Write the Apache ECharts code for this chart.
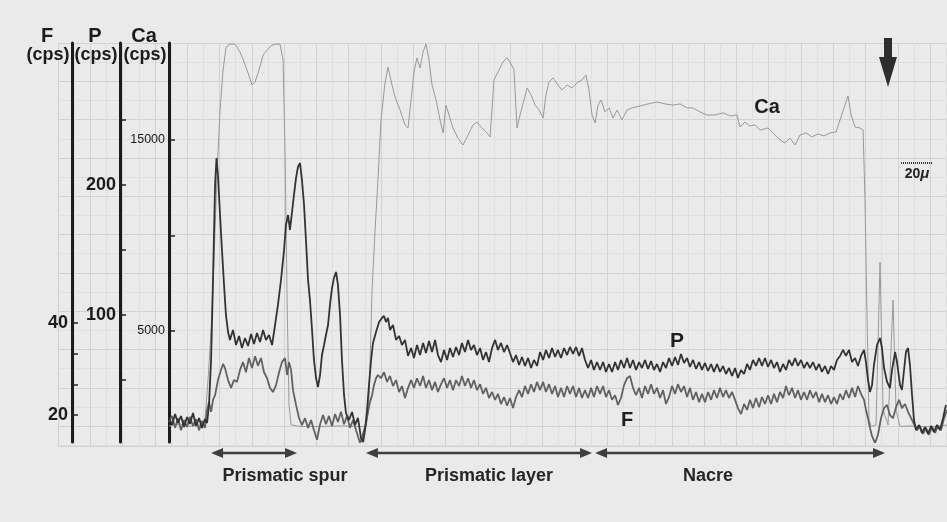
<!DOCTYPE html>
<html><head><meta charset="utf-8">
<script src="https://cdn.jsdelivr.net/npm/echarts@6/dist/echarts.min.js"></script>
<style>html,body{margin:0;padding:0;background:#eaeaea}#c{width:947px;height:522px}</style>
</head><body><div id="c"></div>
<script>
// ---- axis ticks / labels (cps) ----
const caAxisTicks = [5000, 10000, 15000];
const caAxisLabels = [5000, 15000];
const pAxisTicks = [50, 100, 150, 200, 250];
const pAxisLabels = [100, 200];
const fAxisTicks = [20, 26.67, 33.33, 40];
const fAxisLabels = [20, 40];

// ---- scan profiles: [distance (µm), counts (cps)] ----
const caProfile = [[0,30],[6.9,130],[13.1,0],[19.4,80],[22.5,340],[24.4,2430],[26.3,5050],[28.1,8720],[30,13170],[31.9,16570],[33.8,18670],[35.6,19820],[37.5,20020],[41.3,20020],[44.4,19610],[46.9,19090],[49.4,18510],[51.9,17880],[53.8,18040],[56.3,18670],[58.8,19450],[61.3,19710],[64.4,19970],[66.9,20020],[69.4,20020],[71.3,19190],[72.5,14480],[73.8,6620],[75,1130],[76.3,80],[81.9,0],[94.4,0],[106.9,30],[119.4,0],[123.1,0],[125,1390],[126.9,7150],[128.8,10290],[130.6,12910],[132.5,16050],[135,17990],[136.9,18820],[139.4,17880],[141.3,17250],[144.4,16570],[147.5,15790],[149.4,15630],[151.3,17100],[153.1,18560],[155,19300],[156.9,18770],[158.8,19610],[160.6,20020],[162.5,19190],[164.4,17880],[166.9,17100],[169.4,16050],[171.3,15370],[173.1,16830],[175,16310],[177.5,15630],[180.6,15100],[183.8,14740],[186.9,15260],[190,15790],[192.5,15940],[195.6,15630],[198.8,15370],[200.6,15160],[201.9,16570],[203.1,18140],[205.6,18560],[208.8,19090],[211.3,19300],[213.8,18980],[215.6,18670],[217.5,15630],[219.4,16310],[221.9,17100],[223.8,17720],[226.3,17360],[228.8,16830],[231.3,16570],[233.8,16150],[235.6,17360],[237.5,18040],[240,18250],[243.1,17880],[245.6,17620],[248.8,17880],[251.9,17720],[255,17990],[258.1,18140],[260.6,18410],[262.5,17620],[264.4,16310],[266.3,15890],[268.1,16830],[270,17100],[272.5,16470],[275,16680],[277.5,16150],[280,16570],[283.1,16050],[286.3,16570],[289.4,16680],[294.4,16780],[299.4,16890],[305,16990],[310,16890],[315,16830],[319.4,16890],[323.8,16680],[327.5,16680],[331.9,16470],[336.3,16310],[341.3,16310],[346.3,16420],[350.6,16260],[355,16310],[356.9,15680],[360,15940],[363.1,15730],[366.3,15790],[369.4,15520],[374.4,15630],[378.8,15260],[381.9,15000],[385,14840],[388.1,15100],[391.3,14740],[394.4,15260],[398.1,15370],[401.9,15160],[405.6,15320],[409.4,15210],[413.1,15370],[416.9,15420],[419.4,16050],[421.9,16680],[424.4,17300],[426.3,16310],[428.8,15680],[431.9,15630],[433.8,15520],[435,11860],[436.3,5580],[437.5,340],[438.8,0],[441.9,80],[444.4,8610],[446.3,860],[449.4,80],[452.5,6620],[454.4,860],[456.9,0],[463.1,30],[469.4,0],[479.4,0],[486.3,80]];

const pProfile = [[0,20.8],[1.9,15.4],[3.8,23.8],[5.6,16.9],[7.5,22.3],[9.4,13.8],[11.3,21.5],[13.1,16.2],[15,24.6],[16.9,14.6],[18.8,20.8],[20.6,13.1],[22.5,20],[23.8,16.9],[25,30.8],[26.3,65.4],[27.5,126.9],[28.8,200],[29.7,220.8],[30.6,207.7],[31.9,176.9],[33.1,150],[34.4,123.1],[35.6,100],[36.9,86.9],[38.1,80.8],[40,88.5],[41.9,76.9],[43.8,83.8],[45.6,74.6],[47.5,82.3],[49.4,76.2],[51.3,85.4],[53.1,77.7],[55,86.2],[56.9,79.2],[58.8,88.5],[60.6,80.8],[62.5,84.6],[64.4,76.9],[66.3,92.3],[68.1,107.7],[70,126.9],[71.9,150],[73.1,169.2],[74.4,176.9],[75.6,165.4],[76.9,179.2],[78.1,192.3],[79.4,205.4],[80.6,213.8],[81.9,216.9],[83.1,203.8],[84.4,184.6],[85.6,157.7],[86.9,126.9],[88.1,111.5],[89.4,88.5],[90.6,65.4],[91.9,51.5],[93.1,44.6],[94.4,53.8],[95.6,69.2],[96.9,76.9],[98.1,84.6],[99.4,92.3],[100.6,107.7],[101.9,120.8],[103.1,128.5],[104.4,133.1],[105.6,123.1],[106.9,100],[108.1,65.4],[109.4,38.5],[110.6,24.6],[112.5,19.2],[114.4,25.4],[116.3,15.4],[118.1,20.8],[120,5.4],[121.3,2.3],[122.5,11.5],[123.8,26.9],[125,46.2],[126.3,65.4],[127.5,78.5],[129.4,86.9],[131.3,94.6],[133.1,97.7],[134.4,99.2],[135.6,94.6],[136.9,97.7],[138.1,88.5],[140,92.3],[141.9,80.8],[143.8,83.8],[145.6,76.9],[147.5,80.8],[149.4,68.5],[151.3,74.6],[153.1,66.9],[155,76.9],[156.9,69.2],[158.8,78.5],[160.6,70.8],[162.5,80],[164.4,71.5],[166.3,80.8],[168.1,69.2],[170,63.8],[171.9,73.1],[173.8,65.4],[175.6,74.6],[177.5,67.7],[179.4,75.4],[181.3,69.2],[183.1,78.5],[185,71.5],[186.9,80.8],[188.8,73.1],[190.6,76.9],[192.5,69.2],[194.4,74.6],[196.3,65.4],[198.1,71.5],[200,63.8],[201.9,74.6],[203.8,80.8],[205.6,73.1],[207.5,78.5],[209.4,71.5],[211.3,76.9],[213.1,70.8],[215,63.8],[216.9,69.2],[218.8,61.5],[220.6,67.7],[222.5,60.8],[224.4,66.9],[226.3,59.2],[228.1,65.4],[230,60.8],[231.9,71.5],[233.8,65.4],[235.6,73.1],[237.5,66.9],[239.4,74.6],[241.3,67.7],[243.1,73.1],[245,66.9],[246.9,74.6],[248.8,69.2],[250.6,75.4],[252.5,70],[254.4,75.4],[256.3,68.5],[258.1,74.6],[260,65.4],[261.9,59.2],[263.8,65.4],[265.6,57.7],[267.5,63.8],[269.4,57.7],[271.3,63.8],[273.1,56.2],[275,62.3],[276.9,56.2],[278.8,63.8],[280.6,57.7],[282.5,65.4],[284.4,59.2],[286.3,66.9],[288.1,59.2],[290,65.4],[291.9,57.7],[293.8,63.8],[295.6,59.2],[297.5,65.4],[299.4,58.5],[301.3,64.6],[303.1,57.7],[305,62.3],[306.9,56.2],[308.8,63.8],[310.6,59.2],[312.5,66.9],[314.4,60.8],[316.3,67.7],[318.1,61.5],[320,70],[321.9,63.1],[323.8,66.9],[325.6,60],[327.5,65.4],[329.4,58.5],[331.3,63.8],[333.1,57.7],[335,63.1],[336.9,56.9],[338.8,62.3],[340.6,56.2],[342.5,62.3],[344.4,56.2],[346.3,60.8],[348.1,54.6],[350,59.2],[351.9,53.1],[353.8,59.2],[355.6,51.5],[357.5,57.7],[359.4,54.6],[361.3,62.3],[363.1,57.7],[365,65.4],[366.9,60.8],[368.8,66.9],[370.6,60.8],[372.5,66.9],[374.4,60],[376.3,65.4],[378.1,59.2],[380,63.8],[381.9,56.2],[383.8,62.3],[385.6,57.7],[387.5,65.4],[389.4,60.8],[391.3,66.9],[393.1,60.8],[395,65.4],[396.9,59.2],[398.8,63.8],[400.6,59.2],[402.5,63.8],[404.4,57.7],[406.3,62.3],[408.1,56.2],[410,60.8],[411.9,54.6],[413.8,60.8],[415.6,57.7],[417.5,65.4],[419.4,68.5],[421.3,73.1],[423.1,68.5],[425,73.1],[426.9,63.8],[428.8,66.9],[430.6,60.8],[432.5,68.5],[434.4,73.1],[435.6,63.8],[436.9,50],[438.1,40.8],[439.4,46.2],[440.6,61.5],[442.5,76.9],[444.4,82.3],[445.6,74.6],[446.9,59.2],[448.8,48.5],[450.6,43.8],[451.9,57.7],[453.8,71.5],[455,63.8],[456.9,46.2],[458.1,42.3],[459.4,57.7],[460.6,71.5],[461.9,74.6],[463.1,61.5],[464.4,38.5],[465.6,19.2],[466.9,11.5],[468.8,15.4],[470.6,9.2],[472.5,13.8],[474.4,8.5],[476.3,14.6],[478.1,10],[480,15.4],[481.9,11.5],[483.8,20.8],[485.6,30.8]];

const fProfile = [[0,18.5],[1.9,19.8],[3.8,17.2],[5.6,19.3],[7.5,16.7],[9.4,18.9],[11.3,17.4],[13.1,19.6],[15,17.6],[16.9,19.1],[18.8,16.7],[20.6,18.7],[22.5,17.2],[23.8,21.1],[25,22.8],[26.3,20.7],[27.5,23.3],[28.8,24.3],[30.6,27.6],[32.5,29.8],[33.8,31.1],[35,30.2],[36.9,27.6],[38.8,25.9],[40.6,27.6],[42.5,27.2],[44.4,29.8],[46.3,31.5],[48.1,29.3],[50,32.4],[51.9,30.2],[53.8,32.8],[55.6,30.7],[57.5,32.4],[59.4,29.3],[61.3,28],[63.1,25.9],[65,25],[66.9,26.5],[68.8,29.3],[70.6,31.5],[72.5,32.4],[73.8,28.7],[75,31.5],[76.3,29.8],[77.5,25.4],[79.4,22.2],[81.3,19.3],[83.1,17.8],[85,19.3],[86.9,17.2],[88.8,18.9],[90.6,16.7],[92.5,14.6],[94.4,18],[96.3,20],[98.1,18],[100,19.8],[101.9,17.6],[103.8,20.2],[105.6,18.5],[107.5,20.7],[109.4,18],[111.3,19.8],[113.1,17.2],[115,18.9],[116.9,16.7],[118.1,15.4],[119.4,13.9],[120.6,15],[121.9,16.7],[123.1,18],[124.4,20.7],[125.6,22.8],[126.9,24.3],[128.1,26.5],[129.4,28],[130.6,28.7],[132.5,28],[134.4,29.3],[136.3,27.2],[138.1,28.5],[140,26.3],[141.9,27.6],[143.8,25],[145.6,26.3],[147.5,23.7],[149.4,25.9],[151.3,27.6],[153.1,25.9],[155,28],[156.9,26.3],[158.8,28.5],[160.6,25.9],[162.5,27.6],[164.4,25.4],[166.3,27.2],[168.1,25],[170,26.7],[171.9,28],[173.8,25.9],[175.6,27.6],[177.5,25.4],[179.4,27.6],[181.3,26.3],[183.1,28.5],[185,26.3],[186.9,28],[188.8,25.9],[190.6,27.6],[192.5,25.4],[194.4,26.7],[196.3,24.6],[198.1,25.9],[200,23.7],[201.9,25],[203.8,23.3],[205.6,24.6],[207.5,22.4],[209.4,23.9],[211.3,22],[213.1,23.7],[215,21.5],[216.9,23.9],[218.8,25.4],[220.6,23.9],[222.5,26.3],[224.4,24.6],[226.3,26.7],[228.1,25],[230,27.2],[231.9,25.4],[233.8,27.2],[235.6,25],[237.5,26.7],[239.4,24.6],[241.3,26.3],[243.1,23.9],[245,25.9],[246.9,23.9],[248.8,26.3],[250.6,24.6],[252.5,26.3],[254.4,23.9],[256.3,25.9],[258.1,23.7],[260,25.4],[261.9,23.7],[263.8,25.9],[265.6,23.9],[267.5,26.3],[269.4,24.6],[271.3,26.3],[273.1,23.9],[275,25.4],[276.9,23.3],[278.8,24.3],[280.6,22.2],[282.5,23.7],[284.4,26.5],[286.3,28],[288.1,28.5],[290,25.9],[291.9,24.3],[293.8,25.9],[295.6,23.7],[297.5,26.3],[299.4,24.6],[301.3,26.7],[303.1,24.6],[305,25.9],[306.9,23.7],[308.8,25.4],[310.6,22.4],[312.5,23.9],[314.4,26.3],[316.3,24.6],[318.1,26.7],[320,25],[321.9,26.3],[323.8,23.9],[325.6,25.9],[327.5,23.3],[329.4,25],[331.3,22.8],[333.1,24.6],[335,22.8],[336.9,25],[338.8,23.3],[340.6,25.4],[342.5,23.7],[344.4,25.9],[346.3,23.9],[348.1,25.4],[350,23.7],[351.9,25],[353.8,23.3],[355.6,21.5],[357.5,20.2],[359.4,22.4],[361.3,21.1],[363.1,23.3],[365,21.5],[366.9,23.7],[368.8,21.7],[370.6,23.9],[372.5,22.4],[374.4,24.3],[376.3,22.4],[378.1,24.6],[380,22.8],[381.9,25],[383.8,23.7],[385.6,26.3],[387.5,24.3],[389.4,25.9],[391.3,23.7],[393.1,25.4],[395,23.3],[396.9,25],[398.8,23.3],[400.6,25.4],[402.5,23.7],[404.4,25],[406.3,22.8],[408.1,24.6],[410,22.8],[411.9,24.3],[413.8,22.4],[415.6,23.9],[417.5,22.4],[419.4,24.6],[421.3,23.3],[423.1,25.4],[425,23.7],[426.9,25.9],[428.8,23.9],[430.6,26.3],[432.5,24.6],[434.4,23.3],[435.6,21.1],[436.9,19.3],[438.1,17.2],[439.4,15.4],[441.3,13.9],[443.1,15.7],[445,19.3],[446.9,21.5],[448.8,22.2],[450.6,20],[452.5,19.3],[454.4,21.7],[456.3,23.3],[458.1,21.5],[460,22.4],[461.9,20.7],[463.8,19.3],[465.6,18],[467.5,16.7],[469.4,17.6],[471.3,15.9],[473.1,17.2],[475,15.7],[476.9,17.4],[478.8,16.1],[480.6,17.6],[482.5,16.7],[484.4,19.3],[486.3,21.1]];

// ---- annotations ----
const layerNames = ['Prismatic spur', 'Prismatic layer', 'Nacre'];
const layerFrom = [26.3, 123.1, 266.3];
const layerTo = [80, 264.4, 447.5];
const layerLabelAt = [72.5, 200, 336.9];
const scaleBarStart = 457.5;
const scaleBarLength = 20;

const FONT = '"Liberation Sans", Arial, Helvetica, sans-serif';
const chart = echarts.init(document.getElementById('c'), null, {renderer: 'canvas'});

function yAx(min, max, offset, ticks, labels, labelSize, bold) {
  return {
    type: 'value', gridIndex: 0, position: 'left', offset: offset,
    min: min, max: max,
    axisLine: {show: true, onZero: false, lineStyle: {color: '#1b1b1b', width: 3}},
    axisTick: {show: true, inside: true, length: 6, customValues: ticks, lineStyle: {color: '#222', width: 1.5}},
    axisLabel: {show: true, customValues: labels, margin: 4, color: '#1b1b1b',
      formatter: function (v) { return String(v); },
      fontFamily: FONT, fontSize: labelSize, fontWeight: bold ? 'bold' : 'normal'},
    splitLine: {show: false}
  };
}

const option = {
  backgroundColor: '#eaeaea',
  animation: false,
  textStyle: {fontFamily: FONT},
  grid: [
    {left: 169, top: 43, right: 0, height: 399},
    {left: 58, top: 43, right: 0, height: 403}
  ],
  xAxis: [
    {type: 'value', gridIndex: 0, min: 0, max: 486.25, show: false},
    {type: 'value', gridIndex: 1, min: 0, max: 27.52, interval: 1,
      axisLine: {show: false}, axisTick: {show: false}, axisLabel: {show: false},
      splitLine: {show: true, lineStyle: {color: '#d2d2d2', width: 1}},
      minorTick: {show: false, splitNumber: 2},
      minorSplitLine: {show: true, lineStyle: {color: '#dfdfdf', width: 1}}}
  ],
  yAxis: [
    yAx(-812, 20079, 0, caAxisTicks, caAxisLabels, 12.5, false),
    yAx(2.3, 309.2, 49, pAxisTicks, pAxisLabels, 18, true),
    yAx(14.13, 100.9, 97, fAxisTicks, fAxisLabels, 18, true),
    {type: 'value', gridIndex: 1, min: 0, max: 10.52, interval: 1, inverse: true,
      axisLine: {show: false}, axisTick: {show: false}, axisLabel: {show: false},
      splitLine: {show: true, lineStyle: {color: '#d2d2d2', width: 1}},
      minorTick: {show: false, splitNumber: 2},
      minorSplitLine: {show: true, lineStyle: {color: '#dfdfdf', width: 1}}}
  ],
  series: [
    {name: 'Ca', type: 'line', xAxisIndex: 0, yAxisIndex: 0, data: caProfile, symbol: 'none',
      lineStyle: {color: '#999999', width: 1}, z: 3,
      markPoint: {symbol: 'circle', symbolSize: 0, silent: true,
        label: {show: true, position: 'inside', formatter: 'Ca', color: '#1e1e1e', fontSize: 20, fontWeight: 'bold', fontFamily: FONT},
        data: [{coord: [373.75, 16677]}]}},
    {name: 'F', type: 'line', xAxisIndex: 0, yAxisIndex: 2, data: fProfile, symbol: 'none',
      lineStyle: {color: '#626262', width: 1.8}, z: 4,
      markPoint: {symbol: 'circle', symbolSize: 0, silent: true,
        label: {show: true, position: 'inside', formatter: 'F', color: '#1e1e1e', fontSize: 20, fontWeight: 'bold', fontFamily: FONT},
        data: [{coord: [286.25, 18.9]}]}},
    {name: 'P', type: 'line', xAxisIndex: 0, yAxisIndex: 1, data: pProfile, symbol: 'none',
      lineStyle: {color: '#333333', width: 1.8}, z: 5,
      markPoint: {symbol: 'circle', symbolSize: 0, silent: true,
        label: {show: true, position: 'inside', formatter: 'P', color: '#1e1e1e', fontSize: 21, fontWeight: 'bold', fontFamily: FONT},
        data: [{coord: [317.5, 80]}]}}
  ]
};
chart.setOption(option);

// ---- annotation graphics positioned from data via the x scale ----
const gfx = [];
const headers = [
  {name: 'F', axisX: 72},
  {name: 'P', axisX: 120},
  {name: 'Ca', axisX: 169}
];
headers.forEach(function (h) {
  gfx.push({type: 'text', x: h.axisX - 25, y: 36, style: {text: h.name, fill: '#1b1b1b', font: 'bold 20px ' + FONT, textAlign: 'center', textVerticalAlign: 'middle'}});
  gfx.push({type: 'text', x: h.axisX - 24, y: 55, style: {text: '(cps)', fill: '#1b1b1b', font: 'bold 18px ' + FONT, textAlign: 'center', textVerticalAlign: 'middle'}});
});

const arrowY = 453;
const ac = '#3e3e3e';
for (let i = 0; i < layerNames.length; i++) {
  const x1 = chart.convertToPixel({xAxisIndex: 0}, layerFrom[i]);
  const x2 = chart.convertToPixel({xAxisIndex: 0}, layerTo[i]);
  gfx.push({type: 'line', shape: {x1: x1 + 8, y1: arrowY, x2: x2 - 8, y2: arrowY}, style: {stroke: ac, lineWidth: 2.5}});
  gfx.push({type: 'polygon', shape: {points: [[x1, arrowY], [x1 + 12, arrowY - 5], [x1 + 12, arrowY + 5]]}, style: {fill: ac}});
  gfx.push({type: 'polygon', shape: {points: [[x2, arrowY], [x2 - 12, arrowY - 5], [x2 - 12, arrowY + 5]]}, style: {fill: ac}});
  const lx = chart.convertToPixel({xAxisIndex: 0}, layerLabelAt[i]);
  gfx.push({type: 'text', x: lx, y: 476, style: {text: layerNames[i], fill: '#262626', font: 'bold 18px ' + FONT, textAlign: 'center', textVerticalAlign: 'middle'}});
}

// scale bar
const sb1 = chart.convertToPixel({xAxisIndex: 0}, scaleBarStart);
const sb2 = chart.convertToPixel({xAxisIndex: 0}, scaleBarStart + scaleBarLength);
gfx.push({type: 'line', shape: {x1: sb1, y1: 163, x2: sb2, y2: 163}, style: {stroke: '#333', lineWidth: 2, lineDash: [1, 1]}});
gfx.push({type: 'text', x: (sb1 + sb2) / 2, y: 174, style: {
  text: '{a|20}{b|μ}', textAlign: 'center', textVerticalAlign: 'middle',
  rich: {a: {font: 'bold 14px ' + FONT, fill: '#222'}, b: {font: 'italic bold 15px ' + FONT, fill: '#222'}}}});

// marker arrow (top right)
gfx.push({type: 'polygon', shape: {points: [[884, 38], [892, 38], [892, 57], [897, 57], [888, 87], [879, 57], [884, 57]]}, style: {fill: '#2d2d2d'}});

chart.setOption({graphic: gfx});
</script>
</body></html>
